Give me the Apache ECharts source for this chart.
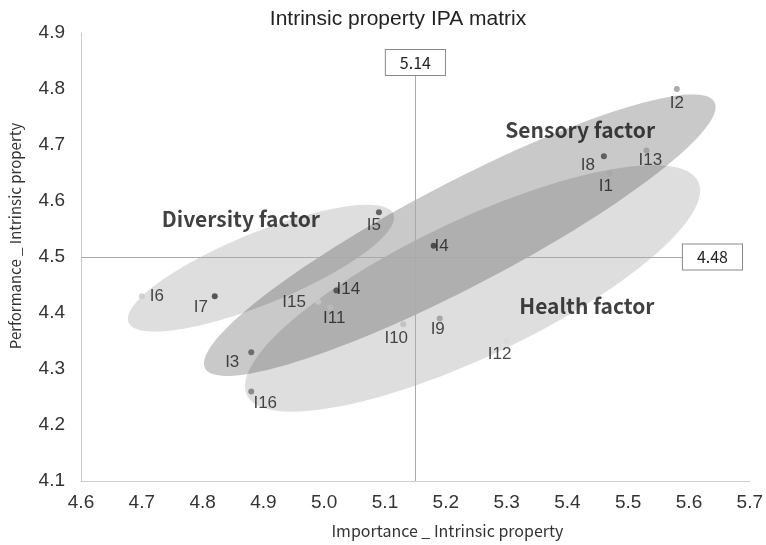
<!DOCTYPE html>
<html>
<head>
<meta charset="utf-8">
<title>Intrinsic property IPA matrix</title>
<script src="https://cdn.jsdelivr.net/npm/echarts@6/dist/echarts.min.js"></script>
<style>
  html, body { margin: 0; padding: 0; background: #fff; }
  #chart { width: 766px; height: 545px; }
</style>
</head>
<body>
<div id="chart"></div>
<script>
// items of the matrix
const items = ['I1', 'I2', 'I3', 'I4', 'I5', 'I6', 'I7', 'I8', 'I9', 'I10', 'I11', 'I12', 'I13', 'I14', 'I15', 'I16'];
const importance = [5.47, 5.58, 4.88, 5.18, 5.09, 4.70, 4.82, 5.46, 5.19, 5.13, 5.01, 5.30, 5.53, 5.02, 4.99, 4.88];
const performance = [4.65, 4.80, 4.33, 4.52, 4.58, 4.43, 4.43, 4.68, 4.39, 4.38, 4.41, 4.35, 4.69, 4.44, 4.42, 4.26];

// axis ranges
const xRange = [4.6, 5.7];
const yRange = [4.1, 4.9];

// reference lines (drawn position / printed label)
const meanX = 5.15;
const meanY = 4.5;
const meanXLabel = '5.14';
const meanYLabel = '4.48';

// factor groups
const factorNames = ['Diversity factor', 'Sensory factor', 'Health factor'];
const factorLabelAt = [[4.863, 4.568], [5.421, 4.727], [5.432, 4.412]];

// ellipse per factor: centre, half major axis, half minor axis (data units)
const clusters = [
  { c: [4.896, 4.480], a: [0.2179, 0.0966], b: [-0.0217, 0.0591], alpha: 0.13 },
  { c: [5.223, 4.539], a: [0.4190, 0.2375], b: [-0.0388, 0.0825], alpha: 0.21 },
  { c: [5.244, 4.444], a: [0.3714, 0.1902], b: [-0.0471, 0.1109], alpha: 0.13 }
];

// point colours + label offsets (px)
const dotColor = {
  I1: '#a8a8a8', I2: '#999', I3: '#555', I4: '#333', I5: '#444', I6: '#c8c8c8', I7: '#333', I8: '#444',
  I9: '#999', I10: '#bbb', I11: '#bbb', I12: '#d8d8d8', I13: '#999', I14: '#444', I15: '#c8c8c8', I16: '#777'
};
const labelOffset = {
  I1: [-4, 13], I2: [0, 14], I3: [-19, 10], I4: [8, 1], I5: [-5, 13], I6: [15, 0], I7: [-14, 11], I8: [-16, 9],
  I9: [-2, 11], I10: [-7, 14], I11: [4, 11], I12: [-7, 13], I13: [4, 10], I14: [12, -1], I15: [-24, 1], I16: [14, 12]
};

const chart = echarts.init(document.getElementById('chart'));

function renderEllipse(params, api) {
  const e = clusters[params.dataIndex];
  const pts = [];
  for (let i = 0; i < 120; i++) {
    const t = i / 120 * Math.PI * 2;
    const x = e.c[0] + e.a[0] * Math.cos(t) + e.b[0] * Math.sin(t);
    const y = e.c[1] + e.a[1] * Math.cos(t) + e.b[1] * Math.sin(t);
    pts.push(api.coord([x, y]));
  }
  return {
    type: 'polygon',
    shape: { points: pts },
    style: { fill: 'rgba(0,0,0,' + e.alpha + ')' }
  };
}

const boxLabel = {
  show: true,
  position: 'end',
  distance: 0,
  color: '#222',
  fontFamily: 'Noto Sans CJK KR, sans-serif',
  fontSize: 16,
  backgroundColor: '#fff',
  borderColor: '#888',
  borderWidth: 1,
  padding: [5, 14, 4, 14]
};

chart.setOption({
  animation: false,
  title: {
    text: 'Intrinsic property IPA matrix',
    left: 393,
    top: 4,
    textAlign: 'center',
    textStyle: { fontFamily: 'Liberation Sans, Arial, sans-serif', fontSize: 21, fontWeight: 'normal', color: '#222' }
  },
  grid: { left: 77, right: 13, top: 33, bottom: 64, containLabel: false },
  xAxis: {
    type: 'value',
    min: xRange[0],
    max: xRange[1],
    interval: 0.1,
    name: 'Importance _ Intrinsic property',
    nameLocation: 'middle',
    nameGap: 42,
    nameTextStyle: { fontFamily: 'Noto Sans CJK KR, sans-serif', fontSize: 16, color: '#333', padding: [0, 0, 0, 64] },
    axisLine: { show: true, lineStyle: { color: '#ccc' } },
    axisTick: { show: false },
    splitLine: { show: false },
    axisLabel: {
      margin: 12,
      fontFamily: 'Liberation Sans, Arial, sans-serif',
      fontSize: 19,
      color: '#333',
      formatter: v => v.toFixed(1)
    }
  },
  yAxis: {
    type: 'value',
    min: yRange[0],
    max: yRange[1],
    interval: 0.1,
    name: 'Performance _ Intrinsic property',
    nameLocation: 'middle',
    nameGap: 58,
    nameTextStyle: { fontFamily: 'Noto Sans CJK KR, sans-serif', fontSize: 15, color: '#333', padding: [0, 0, 0, 42] },
    axisLine: { show: true, lineStyle: { color: '#ccc' } },
    axisTick: { show: false },
    splitLine: { show: false },
    axisLabel: {
      margin: 16,
      fontFamily: 'Liberation Sans, Arial, sans-serif',
      fontSize: 19,
      color: '#333',
      formatter: v => v.toFixed(1)
    }
  },
  series: [
    {
      type: 'custom',
      renderItem: renderEllipse,
      silent: true,
      z: 1,
      data: clusters.map(e => e.c)
    },
    {
      type: 'scatter',
      symbolSize: 0,
      silent: true,
      z: 3,
      label: {
        show: true,
        position: 'inside',
        fontFamily: 'Noto Sans CJK KR, sans-serif',
        fontWeight: 'bold',
        fontSize: 21,
        color: '#111',
        formatter: p => p.name
      },
      data: factorNames.map((n, i) => ({ name: n, value: factorLabelAt[i] }))
    },
    {
      type: 'scatter',
      symbolSize: 6,
      z: 4,
      data: items.map((n, i) => ({
        name: n,
        value: [importance[i], performance[i]],
        itemStyle: { color: dotColor[n] },
        label: { offset: labelOffset[n] }
      })),
      label: {
        show: true,
        position: 'inside',
        align: 'center',
        verticalAlign: 'middle',
        fontFamily: 'Liberation Sans, Arial, sans-serif',
        fontSize: 17,
        color: '#1a1a1a',
        formatter: p => p.name
      },
      markLine: {
        silent: true,
        symbol: 'none',
        lineStyle: { color: '#aaa', width: 1, type: 'solid' },
        data: [
          [{ coord: [meanX, yRange[0]], label: Object.assign({}, boxLabel, { formatter: meanXLabel }) }, { coord: [meanX, 4.825] }],
          [{ coord: [xRange[0], meanY], label: Object.assign({}, boxLabel, { formatter: meanYLabel }) }, { coord: [5.59, meanY] }]
        ]
      }
    }
  ]
});
</script>
</body>
</html>
